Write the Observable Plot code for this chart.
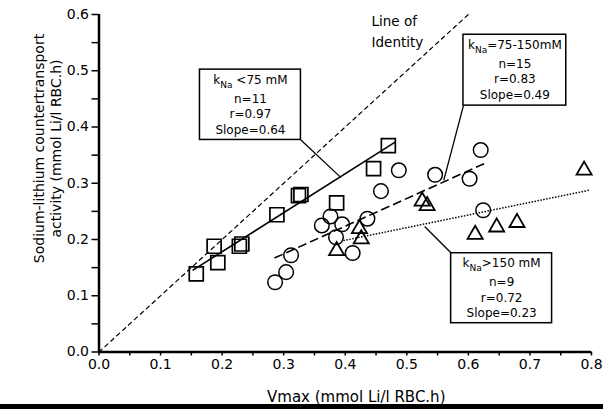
<!DOCTYPE html>
<html><head><meta charset="utf-8">
<script src="https://cdn.jsdelivr.net/npm/d3@7"></script>
<script src="https://cdn.jsdelivr.net/npm/@observablehq/plot@0.6"></script>
<style>
html,body{margin:0;padding:0;background:#fff;}
#chart{width:603px;height:404px;overflow:hidden;}
#rule{width:603px;height:5px;background:#000;}
</style></head><body>
<div id="chart"></div>
<div id="rule"></div>
<script>
// kNa < 75 mM (squares)
const sqX = [0.158, 0.187, 0.193, 0.228, 0.232, 0.289, 0.324, 0.328, 0.386, 0.446, 0.470];
const sqY = [0.139, 0.188, 0.159, 0.188, 0.192, 0.244, 0.278, 0.280, 0.265, 0.326, 0.367];
// kNa 75-150 mM (circles)
const ciX = [0.286, 0.304, 0.312, 0.362, 0.376, 0.395, 0.385, 0.412, 0.436, 0.458, 0.487, 0.546, 0.602, 0.620, 0.624];
const ciY = [0.124, 0.142, 0.172, 0.225, 0.241, 0.227, 0.204, 0.176, 0.237, 0.286, 0.323, 0.315, 0.308, 0.359, 0.252];
// kNa > 150 mM (triangles)
const trX = [0.386, 0.423, 0.426, 0.525, 0.533, 0.611, 0.646, 0.679, 0.788];
const trY = [0.180, 0.219, 0.201, 0.268, 0.260, 0.209, 0.222, 0.230, 0.323];

// regression lines (endpoints)
const fitX1 = [0.152, 0.285, 0.397];
const fitY1 = [0.145, 0.167, 0.198];
const fitX2 = [0.481, 0.626, 0.798];
const fitY2 = [0.373, 0.335, 0.288];

// identity line
const identX = [0, 0.6];
const identY = [0, 0.6];

// annotation boxes
const groupHeader = ["k|Na| <75 mM", "k|Na|=75-150mM", "k|Na|>150 mM"];
const groupN = [11, 15, 9];
const groupR = ["0.97", "0.83", "0.72"];
const groupSlope = ["0.64", "0.49", "0.23"];
const boxX1 = [0.164, 0.592, 0.572];
const boxX2 = [0.328, 0.759, 0.736];
const boxTop = [0.502, 0.564, 0.1756];
const boxBottom = [0.377, 0.438, 0.0512];
const leaderFromX = [0.328, 0.592, 0.572];
const leaderFromY = [0.377, 0.438, 0.176];
const leaderToX = [0.393, 0.560, 0.529];
const leaderToY = [0.310, 0.305, 0.223];

const identityLabel = "Line of\nIdentity";
const identityLabelX = 0.4427;
const identityLabelY = 0.5419;

// axes
const xTicksAll = [0, 0.05, 0.1, 0.15, 0.2, 0.25, 0.3, 0.35, 0.4, 0.45, 0.5, 0.55, 0.6, 0.65, 0.7, 0.75, 0.8];
const xTickValues = [0, 0.1, 0.2, 0.3, 0.4, 0.5, 0.6, 0.7, 0.8];
const xTickLabels = ["0.0", "0.1", "0.2", "0.3", "0.4", "0.5", "0.6", "0.7", "0.8"];
const yTicksAll = [0, 0.05, 0.1, 0.15, 0.2, 0.25, 0.3, 0.35, 0.4, 0.45, 0.5, 0.55, 0.6];
const yTickValues = [0, 0.1, 0.2, 0.3, 0.4, 0.5, 0.6];
const yTickLabels = ["0.0", "0.1", "0.2", "0.3", "0.4", "0.5", "0.6"];
const xLabel = "Vmax (mmol Li/l RBC.h)";
const yLabel = "Sodium-lithium countertransport\nactivity (mmol Li/l RBC.h)";

const pts = (X, Y) => X.map((x, i) => ({x, y: Y[i]}));
const squares = pts(sqX, sqY), circles = pts(ciX, ciY), triangles = pts(trX, trY);
const fits = fitX1.map((x1, i) => ({x1, y1: fitY1[i], x2: fitX2[i], y2: fitY2[i]}));
const boxes = groupN.map((n, i) => ({
  x1: boxX1[i], x2: boxX2[i], top: boxTop[i], bottom: boxBottom[i],
  cx: (boxX1[i] + boxX2[i]) / 2,
  header: groupHeader[i],
  body: `n=${n}\nr=${groupR[i]}\nSlope=${groupSlope[i]}`,
  lx1: leaderFromX[i], ly1: leaderFromY[i], lx2: leaderToX[i], ly2: leaderToY[i]
}));
const fmt = (vals, labels) => d => {
  const i = vals.findIndex(v => Math.abs(v - d) < 1e-9);
  return i >= 0 ? labels[i] : "";
};

const svg = Plot.plot({
  width: 603, height: 404,
  marginLeft: 98.5, marginRight: 12, marginTop: 14, marginBottom: 52.5,
  x: {domain: [0, 0.8]},
  y: {domain: [0, 0.6]},
  style: {fontFamily: "'DejaVu Sans', sans-serif", fontSize: "14px", background: "#fff", color: "#000"},
  marks: [
    Plot.axisX({ticks: xTicksAll, tickSize: 4, tickPadding: 3, tickFormat: fmt(xTickValues, xTickLabels), label: null, strokeWidth: 1.5, fontSize: 14}),
    Plot.axisY({ticks: yTicksAll, tickSize: 7, tickPadding: 3, tickFormat: fmt(yTickValues, yTickLabels), label: null, strokeWidth: 1.5, fontSize: 14}),
    Plot.line(pts(identX, identY), {x: "x", y: "y", stroke: "black", strokeWidth: 1.2, strokeDasharray: "4,4"}),
    Plot.link([fits[0]], {x1: "x1", y1: "y1", x2: "x2", y2: "y2", stroke: "black", strokeWidth: 1.6}),
    Plot.link([fits[1]], {x1: "x1", y1: "y1", x2: "x2", y2: "y2", stroke: "black", strokeWidth: 1.6, strokeDasharray: "9,4"}),
    Plot.link([fits[2]], {x1: "x1", y1: "y1", x2: "x2", y2: "y2", stroke: "black", strokeWidth: 1.5, strokeDasharray: "1.5,1.5"}),
    Plot.dot(squares, {x: "x", y: "y", symbol: "square", r: 7.9, fill: "none", stroke: "black", strokeWidth: 1.7}),
    Plot.dot(circles, {x: "x", y: "y", symbol: "circle", r: 7.3, fill: "none", stroke: "black", strokeWidth: 1.5}),
    Plot.dot(triangles, {x: "x", y: "y", symbol: "triangle", r: 5.6, fill: "none", stroke: "black", strokeWidth: 1.8}),
    Plot.link(boxes, {x1: "lx1", y1: "ly1", x2: "lx2", y2: "ly2", stroke: "black", strokeWidth: 1.3}),
    Plot.rect(boxes, {x1: "x1", x2: "x2", y1: "bottom", y2: "top", fill: "white", stroke: "black", strokeWidth: 1.5}),
    Plot.text(boxes, {x: "cx", y: "top", text: "header", lineAnchor: "top", dy: 5.5, fontSize: 12, fill: "black"}),
    Plot.text(boxes, {x: "cx", y: "top", text: "body", lineAnchor: "top", lineHeight: 1.29, dy: 22, fontSize: 12, fill: "black"}),
    Plot.text([identityLabel], {x: () => identityLabelX, y: () => identityLabelY, text: d => d, textAnchor: "start", lineAnchor: "bottom", lineHeight: 1.6, fontSize: 13.5, fill: "black"}),
    Plot.text([xLabel], {text: d => d, frameAnchor: "bottom", textAnchor: "middle", lineAnchor: "bottom", dx: 11, dy: 49.5, fontSize: 15, fill: "black"}),
    Plot.text([yLabel], {text: d => d, frameAnchor: "left", rotate: -90, textAnchor: "middle", lineAnchor: "middle", lineHeight: 1.21, dx: -51.5, dy: -34.75, fontSize: 14, fill: "black"}),
    Plot.ruleX([0], {stroke: "black", strokeWidth: 2.5}),
    Plot.ruleY([0], {stroke: "black", strokeWidth: 2.5})
  ]
});

// subscript for k_Na
const NS = "http://www.w3.org/2000/svg";
svg.querySelectorAll("text").forEach(t => {
  const s = t.textContent;
  if (!s.includes("|") || t.querySelector("tspan")) return;
  const [a, b, c] = s.split("|");
  t.textContent = "";
  const t1 = document.createElementNS(NS, "tspan"); t1.textContent = a;
  const t2 = document.createElementNS(NS, "tspan"); t2.textContent = b;
  t2.setAttribute("font-size", "9"); t2.setAttribute("dy", "4");
  const t3 = document.createElementNS(NS, "tspan"); t3.textContent = c;
  t3.setAttribute("dy", "-4");
  t.append(t1, t2, t3);
});

document.getElementById("chart").appendChild(svg);
</script>
</body></html>
